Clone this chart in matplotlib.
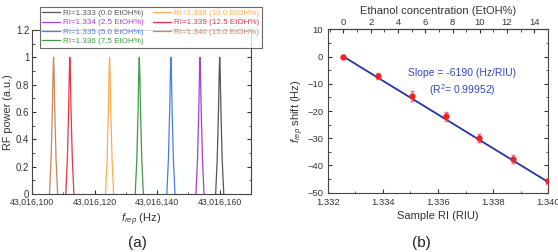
import numpy as np
import matplotlib
matplotlib.use("Agg")
import matplotlib.pyplot as plt
from matplotlib.ticker import MultipleLocator, FuncFormatter

plt.rcParams['font.family'] = ['Liberation Sans', 'DejaVu Sans']
plt.rcParams['mathtext.fontset'] = 'custom'
plt.rcParams['mathtext.rm'] = 'Liberation Sans'
plt.rcParams['mathtext.it'] = 'Liberation Sans:italic'

# (a) Spektren
f0 = 43016100
labels = ["RI=1.333 (0.0 EtOH%)", "RI=1.334 (2.5 EtOH%)", "RI=1.335 (5.0 EtOH%)",
          "RI=1.336 (7.5 EtOH%)", "RI=1.338 (10.0 EtOH%)", "RI=1.339 (12.5 EtOH%)",
          "RI=1.340 (15.0 EtOH%)"]
peak_hz = [60.0, 53.7, 44.4, 34.3, 24.8, 12.1, 6.9]   # Peaklage minus 43,016,100
colors = ["#555555", "#a640d8", "#4a7cf0", "#3f9a45", "#ffaa55", "#ee3344", "#cc8558"]
# Peakform (aus dem Bild abgeschaetzt)
prof_dx = [-1.3, -0.8, -0.4, -0.15, 0.0, 0.15, 0.4, 0.8, 1.3]
prof_y = [0.0, 0.25, 0.6, 0.9, 1.0, 0.9, 0.6, 0.25, 0.0]

# (b) Verschiebung
ri = [1.33256, 1.33381, 1.33504, 1.33628, 1.33750, 1.33874, 1.34000]
shift = [0.0, -7.2, -14.5, -22.0, -30.0, -37.5, -45.7]
shift_err = [0.4, 1.0, 1.8, 1.5, 1.4, 1.5, 1.0]
fit_x = [1.33256, 1.34000]
slope = -6190
ri0, ri15 = 1.33256, 1.34000

fig = plt.figure(figsize=(5.58, 2.52), dpi=100)

ax1 = fig.add_axes([0.0573, 0.2302, 0.3925, 0.6508])
for p, c, l in zip(peak_hz, colors, labels):
    ax1.plot(f0 + p + np.array(prof_dx), prof_y, color=c, lw=0.9, label=l)
ax1.set_xlim(f0, f0 + 70)
ax1.set_ylim(0, 1.2)
ax1.xaxis.set_major_locator(MultipleLocator(20))
ax1.xaxis.set_minor_locator(MultipleLocator(10))
ax1.yaxis.set_major_locator(MultipleLocator(0.2))
ax1.yaxis.set_minor_locator(MultipleLocator(0.1))
ax1.xaxis.set_major_formatter(FuncFormatter(lambda v, pos: "{:,.0f}".format(v)))
ax1.yaxis.set_major_formatter(FuncFormatter(lambda v, pos: "%g" % round(v, 2)))
ax1.tick_params(which='both', direction='in', right=True, top=False, colors='#333333')
ax1.tick_params(axis='x', labelsize=6.3, pad=3)
ax1.tick_params(axis='y', labelsize=7, pad=2)
ax1.tick_params(which='major', length=3)
ax1.tick_params(which='minor', length=1.8)
for s in ax1.spines.values():
    s.set_color('#444444')
ax1.set_ylabel("RF power (a.u.)", fontsize=7.8, color='#333333', labelpad=2)
ax1.set_xlabel(r"$f_{rep}$ (Hz)", fontsize=8, color='#333333', labelpad=3)
leg = ax1.legend(ncol=2, loc='upper left', bbox_to_anchor=(0.018, 1.165, 1.05, 0.0),
                 mode='expand', fontsize=5.8, frameon=True, fancybox=False,
                 edgecolor='#444444', handlelength=2.2, handletextpad=0.4,
                 borderpad=0.3, labelspacing=0.22, columnspacing=1.2)
leg.get_frame().set_linewidth(0.8)
for txt, c in zip(leg.get_texts(), colors):
    txt.set_color(c)
fig.text(0.247, 0.02, "(a)", fontsize=11, ha='center', color='#222222')

ax2 = fig.add_axes([0.5878, 0.2353, 0.3943, 0.6484])
ax2.plot(fit_x, [0, slope * (fit_x[1] - fit_x[0])], color='#2233aa', lw=1.3)
ax2.errorbar(ri, shift, yerr=shift_err, fmt='o', color='#ee2222', ms=3.5,
             ecolor='#ff6666', elinewidth=0.8, capsize=1.5, zorder=3)
ax2.set_xlim(1.332, 1.340)
ax2.set_ylim(-50, 10)
ax2.xaxis.set_major_locator(MultipleLocator(0.002))
ax2.xaxis.set_minor_locator(MultipleLocator(0.001))
ax2.yaxis.set_major_locator(MultipleLocator(10))
ax2.yaxis.set_minor_locator(MultipleLocator(5))
ax2.tick_params(which='both', direction='in', right=True, colors='#333333', labelsize=6.8)
ax2.tick_params(which='major', length=3)
ax2.tick_params(which='minor', length=1.8)
for s in ax2.spines.values():
    s.set_color('#444444')
ax2.set_xlabel("Sample RI (RIU)", fontsize=8, color='#333333', labelpad=3)
ax2.set_ylabel(r"$f_{rep}$ shift (Hz)", fontsize=8, color='#333333', labelpad=1)

k = (ri15 - ri0) / 15.0
top = ax2.secondary_xaxis('top', functions=(lambda x: (x - ri0) / k, lambda c: ri0 + c * k))
top.set_xticks([0, 2, 4, 6, 8, 10, 12, 14])
top.xaxis.set_minor_locator(MultipleLocator(1))
top.tick_params(which='both', direction='in', colors='#333333', labelsize=6.8, pad=1.5)
top.tick_params(which='major', length=3)
top.tick_params(which='minor', length=1.8)
top.set_xlabel("Ethanol concentration (EtOH%)", fontsize=8, color='#333333', labelpad=3)

ax2.text(0.61, 0.73, "Slope = -6190 (Hz/RIU)", transform=ax2.transAxes,
         fontsize=7.5, color='#3344cc', ha='center', va='center')
ax2.text(0.61, 0.625, r"(R$^2$= 0.99952)", transform=ax2.transAxes,
         fontsize=7.5, color='#3344cc', ha='center', va='center')
fig.text(0.756, 0.02, "(b)", fontsize=11, ha='center', color='#222222')

fig.savefig("out.png", dpi=100)
